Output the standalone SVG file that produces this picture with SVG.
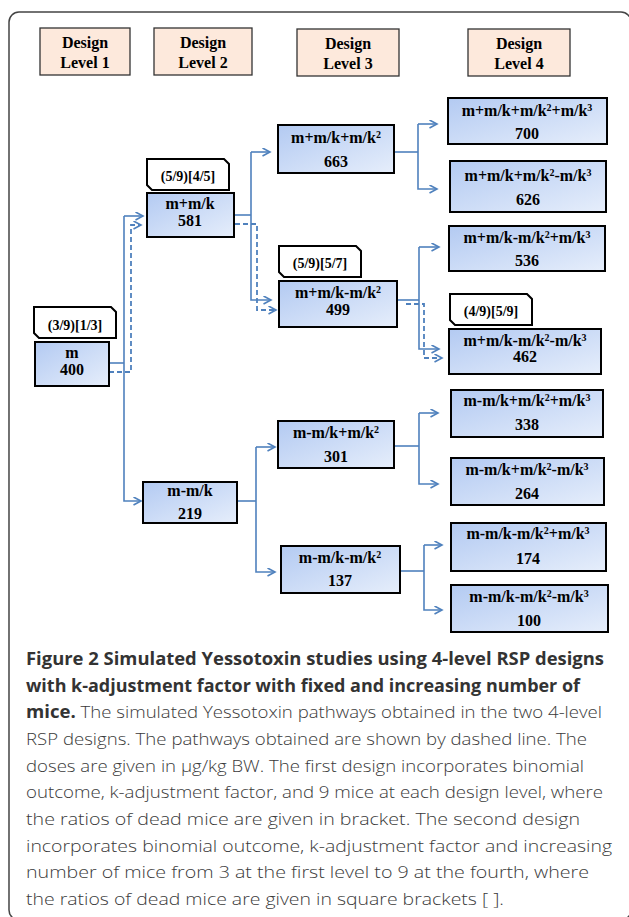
<svg xmlns="http://www.w3.org/2000/svg" width="629" height="917" viewBox="0 0 629 917">
<defs>
<linearGradient id="blue" x1="0" y1="0" x2="1" y2="1">
<stop offset="0" stop-color="#b3caf2"/>
<stop offset="1" stop-color="#e6eefb"/>
</linearGradient>
<marker id="arr" markerUnits="userSpaceOnUse" markerWidth="12" markerHeight="12" refX="8.5" refY="4.5" orient="auto">
<path d="M1,0.5 L8.5,4.5 L1,8.5" fill="none" stroke="#4f81bd" stroke-width="1.6"/>
</marker>
<style>
.hdr rect{fill:#fde9dc;stroke:#333;stroke-width:1.3}
.node rect{fill:url(#blue);stroke:#000;stroke-width:2}
.lab path{fill:#fff;stroke:#000;stroke-width:2}
.t{font-family:"Liberation Serif",serif;font-weight:bold;font-size:16px;fill:#000;text-anchor:middle}
.tl{font-family:"Liberation Serif",serif;font-weight:bold;font-size:14px;fill:#000;text-anchor:middle}
.sup{font-size:10px}
.c line,.c path,.c polyline{fill:none;stroke:#4f81bd;stroke-width:1.6}
.c .d{stroke-dasharray:5,3;stroke-width:1.8}
.cap{font-family:"Open Sans",sans-serif;font-size:17px}
.cb{font-weight:bold;fill:#333}
.cr{font-weight:300;fill:#3a3a3a}
</style>
</defs>
<rect x="9" y="12" width="622" height="908" rx="10" fill="none" stroke="#444" stroke-width="1.5"/>

<g id="header1" class="hdr"><rect x="40" y="28" width="90" height="47"/><text class="t" x="85" y="48">Design</text><text class="t" x="85" y="68">Level 1</text></g>
<g id="header2" class="hdr"><rect x="154" y="28" width="98" height="47"/><text class="t" x="203" y="48">Design</text><text class="t" x="203" y="68">Level 2</text></g>
<g id="header3" class="hdr"><rect x="297" y="29" width="102" height="47"/><text class="t" x="348" y="49">Design</text><text class="t" x="348" y="69">Level 3</text></g>
<g id="header4" class="hdr"><rect x="468" y="29" width="102" height="47"/><text class="t" x="519" y="49">Design</text><text class="t" x="519" y="69">Level 4</text></g>

<g id="connectors" class="c">
<polyline points="109,363 124,363"/>
<polyline points="124,216 124,501 141,501" marker-end="url(#arr)"/>
<line x1="124" y1="216" x2="143" y2="216" marker-end="url(#arr)"/>
<polyline class="d" points="109,372 131,372 131,225 141,225" marker-end="url(#arr)"/>

<polyline points="234,215 251,215"/>
<polyline points="251,152 251,300 271,300" marker-end="url(#arr)"/>
<line x1="251" y1="152" x2="270" y2="152" marker-end="url(#arr)"/>
<polyline class="d" points="235,224 257,224 257,310 276,310" marker-end="url(#arr)"/>

<polyline points="394,152 418,152"/>
<polyline points="418,124 418,189 437,189" marker-end="url(#arr)"/>
<line x1="418" y1="124" x2="437" y2="124" marker-end="url(#arr)"/>

<polyline points="397,300 419,300"/>
<polyline points="419,247 419,349 439,349" marker-end="url(#arr)"/>
<line x1="419" y1="247" x2="439" y2="247" marker-end="url(#arr)"/>
<polyline class="d" points="406,304 424,304 424,358 442,358" marker-end="url(#arr)"/>

<polyline points="237,501 256,501"/>
<polyline points="256,447 256,572 275,572" marker-end="url(#arr)"/>
<line x1="256" y1="447" x2="275" y2="447" marker-end="url(#arr)"/>

<polyline points="394,446 419,446"/>
<polyline points="419,413 419,484 438,484" marker-end="url(#arr)"/>
<line x1="419" y1="413" x2="438" y2="413" marker-end="url(#arr)"/>

<polyline points="400,571 424,571"/>
<polyline points="424,545 424,610 442,610" marker-end="url(#arr)"/>
<line x1="424" y1="545" x2="442" y2="545" marker-end="url(#arr)"/>
</g>

<g id="label400" class="lab"><path d="M34,307 L111,307 L116,312 L116,338 L39,338 L34,333 Z"/><text class="tl" x="75" y="330">(3/9)[1/3]</text></g>
<g id="label581" class="lab"><path d="M147,159 L224,159 L229,164 L229,190 L152,190 L147,185 Z"/><text class="tl" x="188" y="181">(5/9)[4/5]</text></g>
<g id="label499" class="lab"><path d="M279,246 L356,246 L361,251 L361,277 L284,277 L279,272 Z"/><text class="tl" x="320" y="268">(5/9)[5/7]</text></g>
<g id="label462" class="lab"><path d="M450,294 L527,294 L532,299 L532,325 L455,325 L450,320 Z"/><text class="tl" x="491" y="316">(4/9)[5/9]</text></g>

<g id="n400" class="node"><rect x="35" y="342" width="74" height="44"/><text class="t" x="72" y="358">m</text><text class="t" x="72" y="375">400</text></g>
<g id="n581" class="node"><rect x="147" y="193" width="87" height="44"/><text class="t" x="190" y="209">m+m/k</text><text class="t" x="190" y="226">581</text></g>
<g id="n219" class="node"><rect x="143" y="482" width="94" height="41"/><text class="t" x="190" y="496">m-m/k</text><text class="t" x="190" y="519">219</text></g>

<g id="n663" class="node"><rect x="278" y="125" width="116" height="48"/><text class="t" x="336" y="143">m+m/k+m/k<tspan class="sup" baseline-shift="5">2</tspan></text><text class="t" x="336" y="167">663</text></g>
<g id="n499" class="node"><rect x="279" y="281" width="118" height="46"/><text class="t" x="338" y="298">m+m/k-m/k<tspan class="sup" baseline-shift="5">2</tspan></text><text class="t" x="338" y="315">499</text></g>
<g id="n301" class="node"><rect x="278" y="421" width="116" height="47"/><text class="t" x="336" y="438">m-m/k+m/k<tspan class="sup" baseline-shift="5">2</tspan></text><text class="t" x="336" y="462">301</text></g>
<g id="n137" class="node"><rect x="281" y="546" width="119" height="47"/><text class="t" x="340" y="563">m-m/k-m/k<tspan class="sup" baseline-shift="5">2</tspan></text><text class="t" x="340" y="586">137</text></g>

<g id="n700" class="node"><rect x="448" y="98" width="159" height="46"/><text class="t" x="527" y="116">m+m/k+m/k<tspan class="sup" baseline-shift="5">2</tspan>+m/k<tspan class="sup" baseline-shift="5">3</tspan></text><text class="t" x="527" y="139">700</text></g>
<g id="n626" class="node"><rect x="450" y="161" width="156" height="51"/><text class="t" x="528" y="181">m+m/k+m/k<tspan class="sup" baseline-shift="5">2</tspan>-m/k<tspan class="sup" baseline-shift="5">3</tspan></text><text class="t" x="528" y="205">626</text></g>
<g id="n536" class="node"><rect x="449" y="226" width="156" height="45"/><text class="t" x="527" y="243">m+m/k-m/k<tspan class="sup" baseline-shift="5">2</tspan>+m/k<tspan class="sup" baseline-shift="5">3</tspan></text><text class="t" x="527" y="266">536</text></g>
<g id="n462" class="node"><rect x="449" y="329" width="152" height="45"/><text class="t" x="525" y="346">m+m/k-m/k<tspan class="sup" baseline-shift="5">2</tspan>-m/k<tspan class="sup" baseline-shift="5">3</tspan></text><text class="t" x="525" y="362">462</text></g>
<g id="n338" class="node"><rect x="451" y="390" width="152" height="47"/><text class="t" x="527" y="406">m-m/k+m/k<tspan class="sup" baseline-shift="5">2</tspan>+m/k<tspan class="sup" baseline-shift="5">3</tspan></text><text class="t" x="527" y="430">338</text></g>
<g id="n264" class="node"><rect x="451" y="458" width="153" height="47"/><text class="t" x="527" y="475">m-m/k+m/k<tspan class="sup" baseline-shift="5">2</tspan>-m/k<tspan class="sup" baseline-shift="5">3</tspan></text><text class="t" x="527" y="499">264</text></g>
<g id="n174" class="node"><rect x="451" y="523" width="155" height="48"/><text class="t" x="528" y="539">m-m/k-m/k<tspan class="sup" baseline-shift="5">2</tspan>+m/k<tspan class="sup" baseline-shift="5">3</tspan></text><text class="t" x="528" y="564">174</text></g>
<g id="n100" class="node"><rect x="451" y="585" width="157" height="47"/><text class="t" x="529" y="602">m-m/k-m/k<tspan class="sup" baseline-shift="5">2</tspan>-m/k<tspan class="sup" baseline-shift="5">3</tspan></text><text class="t" x="529" y="626">100</text></g>

<g id="caption" class="cap">
<text class="cb" x="26" y="665" textLength="578" lengthAdjust="spacingAndGlyphs">Figure 2 Simulated Yessotoxin studies using 4-level RSP designs</text>
<text class="cb" x="26" y="692" textLength="554" lengthAdjust="spacingAndGlyphs">with k-adjustment factor with fixed and increasing number of</text>
<text x="26" y="718" textLength="576" lengthAdjust="spacingAndGlyphs"><tspan class="cb">mice.</tspan><tspan class="cr"> The simulated Yessotoxin pathways obtained in the two 4-level</tspan></text>
<text class="cr" x="26" y="745" textLength="561" lengthAdjust="spacingAndGlyphs">RSP designs. The pathways obtained are shown by dashed line. The</text>
<text class="cr" x="26" y="772" textLength="558" lengthAdjust="spacingAndGlyphs">doses are given in μg/kg BW. The first design incorporates binomial</text>
<text class="cr" x="26" y="798" textLength="577" lengthAdjust="spacingAndGlyphs">outcome, k-adjustment factor, and 9 mice at each design level, where</text>
<text class="cr" x="26" y="825" textLength="554" lengthAdjust="spacingAndGlyphs">the ratios of dead mice are given in bracket. The second design</text>
<text class="cr" x="26" y="852" textLength="586" lengthAdjust="spacingAndGlyphs">incorporates binomial outcome, k-adjustment factor and increasing</text>
<text class="cr" x="26" y="878" textLength="563" lengthAdjust="spacingAndGlyphs">number of mice from 3 at the first level to 9 at the fourth, where</text>
<text class="cr" x="26" y="905" textLength="478" lengthAdjust="spacingAndGlyphs">the ratios of dead mice are given in square brackets [ ].</text>
</g>
</svg>
